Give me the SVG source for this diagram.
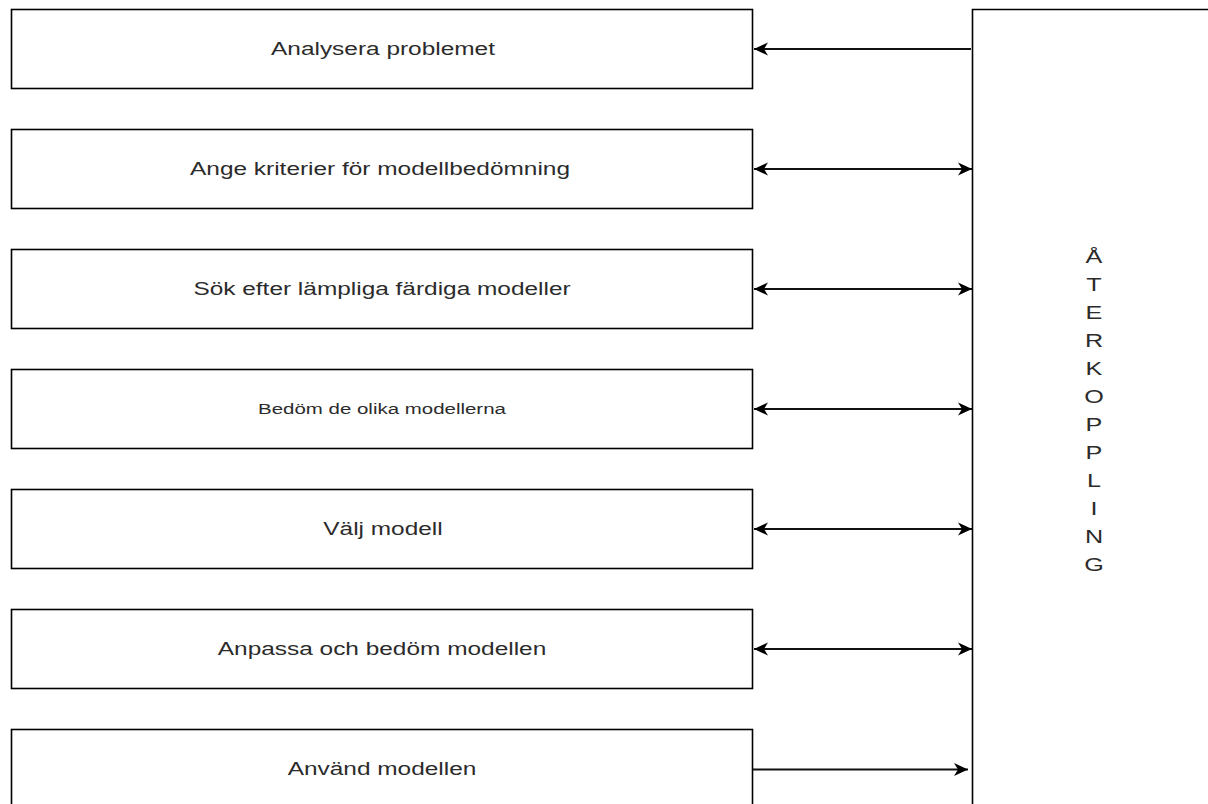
<svg xmlns="http://www.w3.org/2000/svg" width="1208" height="804" viewBox="0 0 1208 804">
  <style>
    .box { fill: #ffffff; stroke: #000000; stroke-width: 1.6; }
    .lbl { font-family: "Liberation Sans", Arial, Helvetica, sans-serif; font-size: 18.5px; fill: #2b2b2b; text-anchor: middle; }
    .lbl.small { font-size: 15.5px; }
    .vlbl { font-family: "Liberation Sans", Arial, Helvetica, sans-serif; font-size: 18px; fill: #2b2b2b; text-anchor: middle; }
    .edge { fill: none; stroke: #111111; stroke-width: 2; }
  </style>
  <defs>
    <marker id="head" viewBox="0 0 14 14" refX="14" refY="7" markerWidth="14" markerHeight="14" markerUnits="userSpaceOnUse" orient="auto-start-reverse">
      <path d="M0,0.5 L14,7 L0,13.5 L4,7 Z" fill="#000000"/>
    </marker>
  </defs>
  <rect width="1208" height="804" fill="#ffffff"/>

  <!-- process steps; labels are widened horizontally around the box centre -->
  <g id="step1">
    <rect class="box" x="11.5" y="9.5" width="741" height="79"/>
    <text class="lbl" transform="translate(383,55) scale(1.32,1)">Analysera problemet</text>
  </g>
  <g id="step2">
    <rect class="box" x="11.5" y="129.5" width="741" height="79"/>
    <text class="lbl" transform="translate(380,175) scale(1.32,1)">Ange kriterier för modellbedömning</text>
  </g>
  <g id="step3">
    <rect class="box" x="11.5" y="249.5" width="741" height="79"/>
    <text class="lbl" transform="translate(382,295) scale(1.32,1)">Sök efter lämpliga färdiga modeller</text>
  </g>
  <g id="step4">
    <rect class="box" x="11.5" y="369.5" width="741" height="79"/>
    <text class="lbl small" transform="translate(382,414) scale(1.32,1)">Bedöm de olika modellerna</text>
  </g>
  <g id="step5">
    <rect class="box" x="11.5" y="489.5" width="741" height="79"/>
    <text class="lbl" transform="translate(383,535) scale(1.32,1)">Välj modell</text>
  </g>
  <g id="step6">
    <rect class="box" x="11.5" y="609.5" width="741" height="79"/>
    <text class="lbl" transform="translate(382,655) scale(1.32,1)">Anpassa och bedöm modellen</text>
  </g>
  <g id="step7">
    <rect class="box" x="11.5" y="729.5" width="741" height="79"/>
    <text class="lbl" transform="translate(382,775) scale(1.32,1)">Använd modellen</text>
  </g>

  <!-- feedback column, one letter per line -->
  <g id="feedback">
    <path class="box" d="M972.5,812 V9.5 H1212"/>
    <g transform="translate(1094,0) scale(1.4,1)">
      <text class="vlbl" x="0" y="263.5">Å</text>
      <text class="vlbl" x="0" y="291.5">T</text>
      <text class="vlbl" x="0" y="319.5">E</text>
      <text class="vlbl" x="0" y="347.5">R</text>
      <text class="vlbl" x="0" y="375.5">K</text>
      <text class="vlbl" x="0" y="403.5">O</text>
      <text class="vlbl" x="0" y="431.5">P</text>
      <text class="vlbl" x="0" y="459.5">P</text>
      <text class="vlbl" x="0" y="487.5">L</text>
      <text class="vlbl" x="0" y="515.5">I</text>
      <text class="vlbl" x="0" y="543.5">N</text>
      <text class="vlbl" x="0" y="571.5">G</text>
    </g>
  </g>

  <g id="connectors">
    <path class="edge" d="M971,49 H754" marker-end="url(#head)"/>
    <path class="edge" d="M754,169 H972" marker-start="url(#head)" marker-end="url(#head)"/>
    <path class="edge" d="M754,289 H972" marker-start="url(#head)" marker-end="url(#head)"/>
    <path class="edge" d="M754,409 H972" marker-start="url(#head)" marker-end="url(#head)"/>
    <path class="edge" d="M754,529 H972" marker-start="url(#head)" marker-end="url(#head)"/>
    <path class="edge" d="M754,649 H972" marker-start="url(#head)" marker-end="url(#head)"/>
    <path class="edge" d="M753,769.5 H968" marker-end="url(#head)"/>
  </g>
</svg>
